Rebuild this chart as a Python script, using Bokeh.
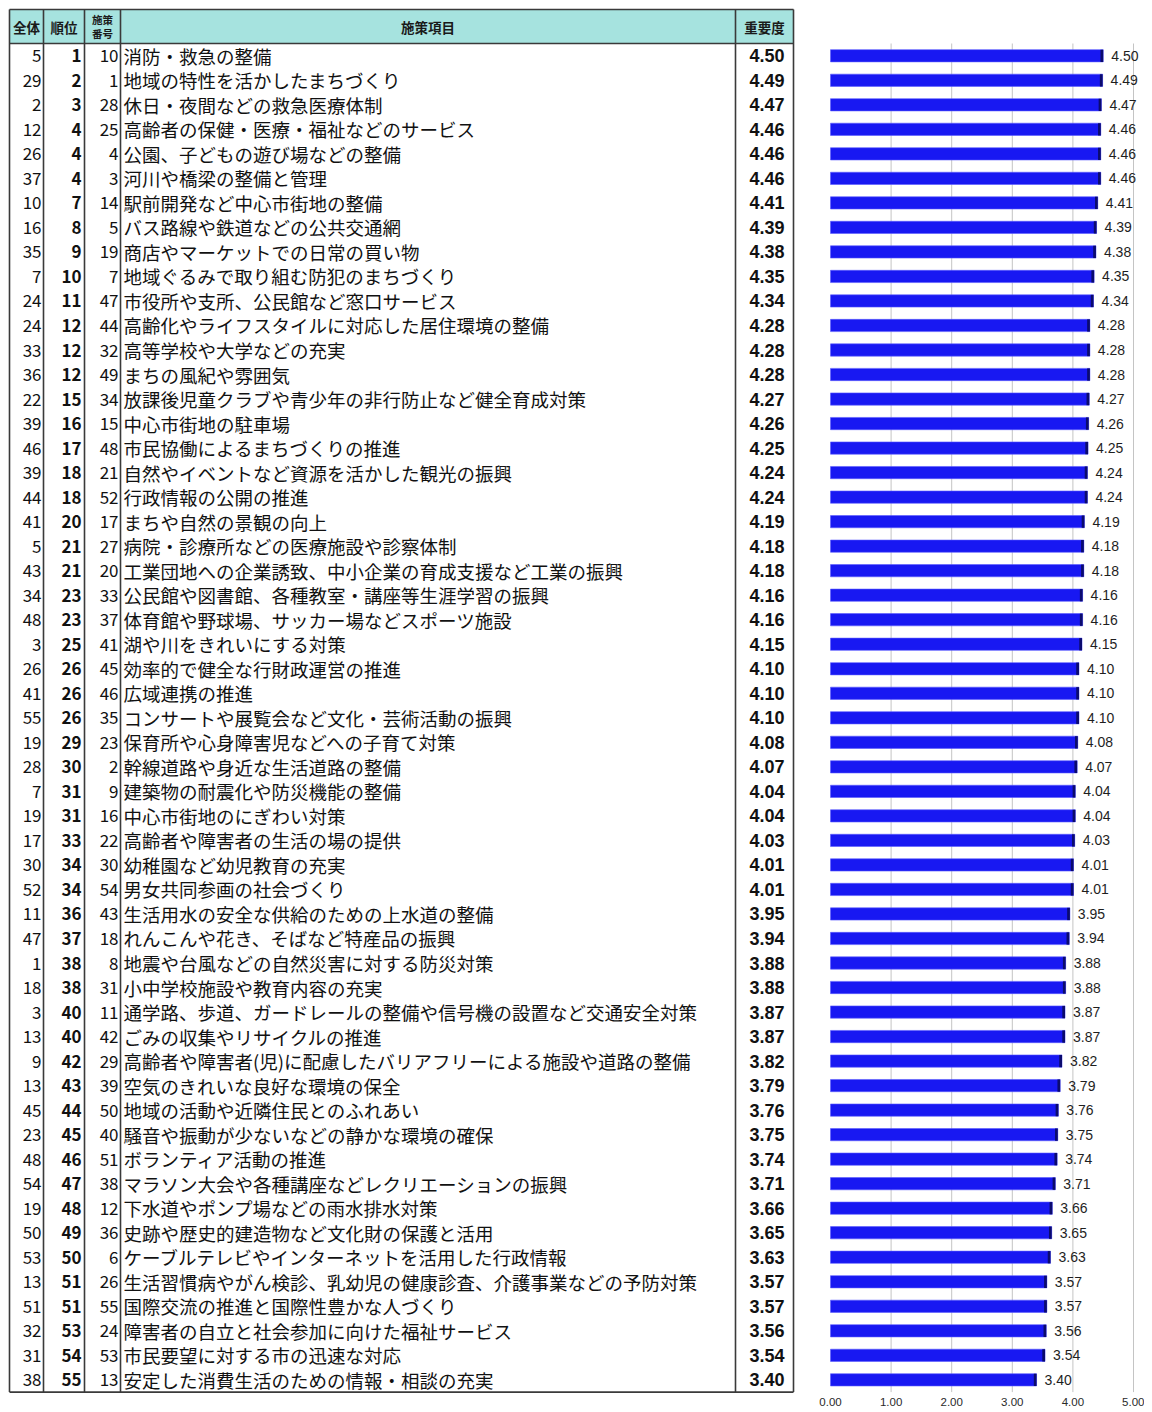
from bokeh.plotting import figure
from bokeh.layouts import row
from bokeh.models import Range1d, FixedTicker, ColumnDataSource, NumeralTickFormatter
from bokeh.embed import file_html
from bokeh.resources import INLINE
from bokeh.core.properties import value

# ---------------- data ----------------
zentai = [5, 29, 2, 12, 26, 37, 10, 16, 35, 7, 24, 24, 33, 36, 22, 39, 46, 39, 44, 41,
          5, 43, 34, 48, 3, 26, 41, 55, 19, 28, 7, 19, 17, 30, 52, 11, 47, 1, 18, 3,
          13, 9, 13, 45, 23, 48, 54, 19, 50, 53, 13, 51, 32, 31, 38]
juni = [1, 2, 3, 4, 4, 4, 7, 8, 9, 10, 11, 12, 12, 12, 15, 16, 17, 18, 18, 20,
        21, 21, 23, 23, 25, 26, 26, 26, 29, 30, 31, 31, 33, 34, 34, 36, 37, 38, 38, 40,
        40, 42, 43, 44, 45, 46, 47, 48, 49, 50, 51, 51, 53, 54, 55]
bango = [10, 1, 28, 25, 4, 3, 14, 5, 19, 7, 47, 44, 32, 49, 34, 15, 48, 21, 52, 17,
         27, 20, 33, 37, 41, 45, 46, 35, 23, 2, 9, 16, 22, 30, 54, 43, 18, 8, 31, 11,
         42, 29, 39, 50, 40, 51, 38, 12, 36, 6, 26, 55, 24, 53, 13]
items = [
    "消防・救急の整備",
    "地域の特性を活かしたまちづくり",
    "休日・夜間などの救急医療体制",
    "高齢者の保健・医療・福祉などのサービス",
    "公園、子どもの遊び場などの整備",
    "河川や橋梁の整備と管理",
    "駅前開発など中心市街地の整備",
    "バス路線や鉄道などの公共交通網",
    "商店やマーケットでの日常の買い物",
    "地域ぐるみで取り組む防犯のまちづくり",
    "市役所や支所、公民館など窓口サービス",
    "高齢化やライフスタイルに対応した居住環境の整備",
    "高等学校や大学などの充実",
    "まちの風紀や雰囲気",
    "放課後児童クラブや青少年の非行防止など健全育成対策",
    "中心市街地の駐車場",
    "市民協働によるまちづくりの推進",
    "自然やイベントなど資源を活かした観光の振興",
    "行政情報の公開の推進",
    "まちや自然の景観の向上",
    "病院・診療所などの医療施設や診察体制",
    "工業団地への企業誘致、中小企業の育成支援など工業の振興",
    "公民館や図書館、各種教室・講座等生涯学習の振興",
    "体育館や野球場、サッカー場などスポーツ施設",
    "湖や川をきれいにする対策",
    "効率的で健全な行財政運営の推進",
    "広域連携の推進",
    "コンサートや展覧会など文化・芸術活動の振興",
    "保育所や心身障害児などへの子育て対策",
    "幹線道路や身近な生活道路の整備",
    "建築物の耐震化や防災機能の整備",
    "中心市街地のにぎわい対策",
    "高齢者や障害者の生活の場の提供",
    "幼稚園など幼児教育の充実",
    "男女共同参画の社会づくり",
    "生活用水の安全な供給のための上水道の整備",
    "れんこんや花き、そばなど特産品の振興",
    "地震や台風などの自然災害に対する防災対策",
    "小中学校施設や教育内容の充実",
    "通学路、歩道、ガードレールの整備や信号機の設置など交通安全対策",
    "ごみの収集やリサイクルの推進",
    "高齢者や障害者(児)に配慮したバリアフリーによる施設や道路の整備",
    "空気のきれいな良好な環境の保全",
    "地域の活動や近隣住民とのふれあい",
    "騒音や振動が少ないなどの静かな環境の確保",
    "ボランティア活動の推進",
    "マラソン大会や各種講座などレクリエーションの振興",
    "下水道やポンプ場などの雨水排水対策",
    "史跡や歴史的建造物など文化財の保護と活用",
    "ケーブルテレビやインターネットを活用した行政情報",
    "生活習慣病やがん検診、乳幼児の健康診査、介護事業などの予防対策",
    "国際交流の推進と国際性豊かな人づくり",
    "障害者の自立と社会参加に向けた福祉サービス",
    "市民要望に対する市の迅速な対応",
    "安定した消費生活のための情報・相談の充実",
]
juyodo = [4.50, 4.49, 4.47, 4.46, 4.46, 4.46, 4.41, 4.39, 4.38, 4.35, 4.34, 4.28, 4.28, 4.28,
          4.27, 4.26, 4.25, 4.24, 4.24, 4.19, 4.18, 4.18, 4.16, 4.16, 4.15, 4.10, 4.10, 4.10,
          4.08, 4.07, 4.04, 4.04, 4.03, 4.01, 4.01, 3.95, 3.94, 3.88, 3.88, 3.87, 3.87, 3.82,
          3.79, 3.76, 3.75, 3.74, 3.71, 3.66, 3.65, 3.63, 3.57, 3.57, 3.56, 3.54, 3.40]
header_labels = ["全体", "順位", "施策", "番号", "施策項目", "重要度"]
axis_ticks = [0, 1, 2, 3, 4, 5]
grid_ticks = [1, 2, 3, 4, 5]

N = len(items)
rows_idx = list(range(1, N + 1))

# ---------------- layout constants (pixels) ----------------
ROW_H = 24.52
HEAD_H = 34          # header height
TOP_GAP = 9          # frame top to header top
LEFT_GAP = 8         # frame left to table data origin
TABLE_W = 808
FRAME_H = 1396
BAR_W = 336
PX_PER_UNIT = 60.6
BAR_ZERO_OFF = 22    # px from bar frame left to value 0


def u_of(dy):
    """row units for a pixel offset below the header bottom"""
    return 0.5 + dy / ROW_H


u_frame_top = u_of(-(HEAD_H + TOP_GAP))
u_head_top = u_of(-HEAD_H)
u_head_mid = u_of(-HEAD_H / 2)
u_head_l1 = u_of(-HEAD_H * 0.72)
u_head_l2 = u_of(-HEAD_H * 0.28)
u_frame_bot = u_of(FRAME_H - HEAD_H - TOP_GAP)
u_table_bot = N + 0.5

COLS = [1, 35, 76, 112, 727, 785]
FONT = "Noto Sans CJK JP"
LINE = "#3a3a3a"

src = ColumnDataSource(dict(
    y=rows_idx,
    zentai=[str(v) for v in zentai],
    juni=[str(v) for v in juni],
    bango=[str(v) for v in bango],
    item=items,
    val=juyodo,
    vtxt=["%.2f" % v for v in juyodo],
))

# ---------------- table figure ----------------
t = figure(frame_width=TABLE_W, frame_height=FRAME_H,
           x_range=Range1d(-LEFT_GAP, TABLE_W - LEFT_GAP),
           y_range=Range1d(u_frame_bot, u_frame_top),
           x_axis_location=None, y_axis_location=None,
           output_backend="svg", toolbar_location=None, min_border=0,
           outline_line_color=None)
t.grid.visible = False

# header background
t.quad(left=COLS[0], right=COLS[-1], top=u_head_top, bottom=0.5,
       fill_color="#a6e3df", line_color=None)

# borders
vx = COLS
t.segment(x0=vx, y0=[u_head_top] * len(vx), x1=vx, y1=[u_table_bot] * len(vx),
          line_color=LINE, line_width=1.6)
t.segment(x0=[COLS[0]] * 3, y0=[u_head_top, 0.5, u_table_bot],
          x1=[COLS[-1]] * 3, y1=[u_head_top, 0.5, u_table_bot],
          line_color=LINE, line_width=1.6)

# header texts
hx = [(COLS[0] + COLS[1]) / 2, (COLS[1] + COLS[2]) / 2, (COLS[2] + COLS[3]) / 2,
      (COLS[2] + COLS[3]) / 2, (COLS[3] + COLS[4]) / 2, (COLS[4] + COLS[5]) / 2]
hy = [u_head_mid, u_head_mid, u_head_l1, u_head_l2, u_head_mid, u_head_mid]
hs = ["13.5px", "13.5px", "10.5px", "10.5px", "13.5px", "13.5px"]
t.text(x=hx, y=hy, text=header_labels, text_align="center", text_baseline="middle",
       text_font=value(FONT), text_font_style="bold", text_font_size=hs,
       text_color="#1a1a1a")

common = dict(source=src, y="y", text_baseline="middle", text_font=value(FONT),
              text_color="#111111")
t.text(x=COLS[1] - 2, text="zentai", text_align="right", text_font_size="17px", **common)
t.text(x=COLS[2] - 3, text="juni", text_align="right", text_font_size="17px",
       text_font_style="bold", **common)
t.text(x=COLS[3] - 2, text="bango", text_align="right", text_font_size="17px", **common)
t.text(x=COLS[3] + 3, text="item", text_align="left", text_font_size="18.5px", **common)
t.text(x=COLS[5] - 9, y="y", source=src, text="vtxt", text_align="right",
       text_baseline="middle", text_font=value("Liberation Sans"), text_font_style="bold",
       text_font_size="18px", text_color="#111111")

# ---------------- bar figure ----------------
x0 = -BAR_ZERO_OFF / PX_PER_UNIT
x1 = x0 + BAR_W / PX_PER_UNIT
b = figure(frame_width=BAR_W, frame_height=FRAME_H,
           x_range=Range1d(x0, x1), y_range=Range1d(u_frame_bot, u_frame_top),
           y_axis_location=None, output_backend="svg", toolbar_location=None,
           min_border=0, outline_line_color=None)
b.grid.visible = False
b.xaxis.ticker = FixedTicker(ticks=axis_ticks)
b.xaxis.formatter = NumeralTickFormatter(format="0.00")
b.xaxis.axis_line_color = None
b.xaxis.major_tick_line_color = None
b.xaxis.minor_tick_line_color = None
b.xaxis.major_tick_out = 0
b.xaxis.major_tick_in = 0
b.xaxis.major_label_standoff = 1
b.xaxis.major_label_text_font = "Liberation Sans"
b.xaxis.major_label_text_font_size = "11.5px"
b.xaxis.major_label_text_color = "#2a2a2a"

# vertical gridlines over the bar area only
b.segment(x0=grid_ticks, y0=[0.5] * len(grid_ticks), x1=grid_ticks,
          y1=[u_table_bot] * len(grid_ticks), line_color="#c4c4c4", line_width=1)

b.hbar(y="y", left=0, right="val", height=0.5, source=src,
       fill_color="#1818f2", line_color="#5a5aff", line_width=0.6)
cap = [v - 0.045 for v in juyodo]
b.hbar(y=rows_idx, left=cap, right=juyodo, height=0.5,
       fill_color="#0b0b6e", line_color=None)
b.text(x="val", y="y", text="vtxt", source=src, x_offset=8, text_baseline="middle",
       text_font=value("Liberation Sans"), text_font_size="14px", text_color="#1e1e1e")

layout = row(t, b)
open("out.html", "w").write(file_html(layout, INLINE))
